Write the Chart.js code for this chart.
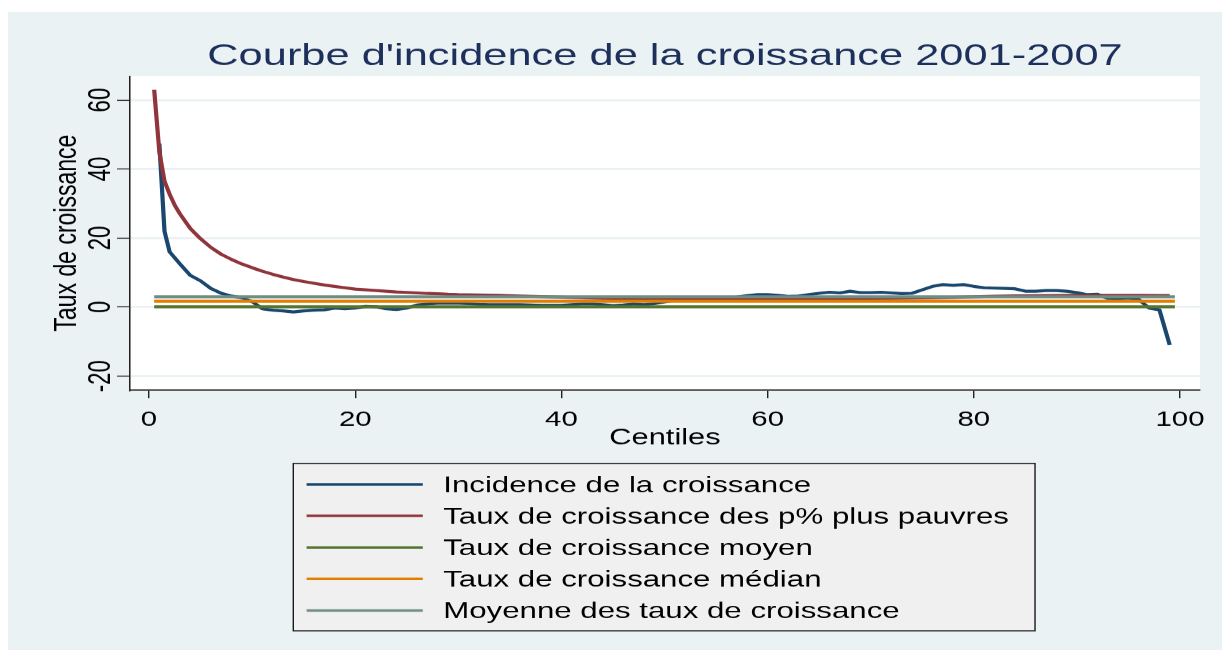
<!DOCTYPE html>
<html>
<head>
<meta charset="utf-8">
<script src="https://cdn.jsdelivr.net/npm/chart.js@4/dist/chart.umd.min.js"></script>
<style>
html,body{margin:0;padding:0;background:#ffffff;overflow:hidden;width:1222px;height:653px;}
#wrap{position:absolute;left:0;top:0;width:873px;height:653px;transform:scaleX(1.39977);transform-origin:0 0;}
#c{display:block;width:873px;height:653px;}
</style>
</head>
<body>
<div id="wrap"><canvas id="c" width="873" height="653"></canvas></div>
<script>
// ---- Data ----
const incidenceCentiles = [1,1.5,2,3,4,5,6,7,8,9,10,11,12,13,14,15,16,17,18,19,20,21,22,23,24,25,26,27,28,29,30,31,32,33,34,35,36,37,38,39,40,41,42,43,44,45,46,47,48,49,50,51,52,53,54,55,56,57,58,59,60,61,62,63,64,65,66,67,68,69,70,71,72,73,74,75,76,77,78,79,80,81,82,83,84,85,86,87,88,89,90,91,92,93,94,95,96,97,98,99];
const incidence = [47.4,22.0,16.0,12.5,9.2,7.6,5.4,4.0,3.2,2.7,1.6,-0.5,-0.9,-1.1,-1.4,-1.1,-0.9,-0.8,-0.3,-0.5,-0.3,0.2,0.1,-0.5,-0.7,-0.3,0.6,0.9,1.1,1.1,1.1,1.0,0.8,0.7,0.7,0.7,0.7,0.6,0.5,0.5,0.5,0.7,0.9,0.9,0.7,0.4,0.6,0.9,0.7,1.0,1.5,2.0,2.1,2.1,2.2,2.3,2.5,2.9,3.3,3.6,3.6,3.4,3.1,3.2,3.6,4.0,4.3,4.1,4.6,4.2,4.2,4.3,4.1,3.9,4.0,5.0,6.0,6.5,6.3,6.5,6.0,5.6,5.5,5.4,5.3,4.6,4.6,4.8,4.8,4.6,4.2,3.6,3.7,2.5,2.4,2.6,2.2,-0.3,-0.8,-11.0];
const poorCentiles = [0.5,1,1.5,2,2.5,3,4,5,6,7,8,9,10,11,12,13,14,15,16,17,18,19,20,21,22,23,24,25,26,27,28,29,30,32,34,36,38,40,42,44,46,48,50,52,54,56,58,60,62,64,66,68,70,72,74,76,78,80,82,84,86,88,90,92,94,96,98,99];
const poorGrowth = [63,45,36.5,32.7,29.5,27,22.8,19.8,17.3,15.3,13.8,12.5,11.4,10.4,9.5,8.7,8.0,7.4,6.9,6.4,6.0,5.6,5.2,5.0,4.8,4.6,4.4,4.25,4.1,3.95,3.85,3.7,3.6,3.5,3.4,3.2,3.05,2.9,2.7,2.5,2.4,2.3,2.2,2.2,2.2,2.2,2.25,2.3,2.3,2.35,2.35,2.4,2.45,2.5,2.6,2.7,2.85,3.0,3.15,3.25,3.3,3.35,3.4,3.4,3.4,3.4,3.35,3.35];
const lineSpan = [0.5, 99.5];
const meanGrowth = 0.1;     // Taux de croissance moyen
const medianGrowth = 1.7;   // Taux de croissance médian
const meanOfRates = 3.0;    // Moyenne des taux de croissance
const xTicks = [0,20,40,60,80,100];
const yTicks = [-20,0,20,40,60];
const labels = ["Incidence de la croissance","Taux de croissance des p% plus pauvres","Taux de croissance moyen","Taux de croissance médian","Moyenne des taux de croissance"];
const colors = ["#1a476f","#90353b","#55752f","#e37e00","#6e8e84"];

const pts = (xs, ys) => xs.map((x, i) => ({x: x, y: ys[i]}));
const flat = v => lineSpan.map(x => ({x: x, y: v}));

Chart.defaults.font.family = "'Liberation Sans', Arial, sans-serif";
Chart.defaults.color = "#000";

const FONT = "'Liberation Sans', Arial, sans-serif";

const backgroundPlugin = {
  id: 'stataBackground',
  beforeDraw(chart) {
    const {ctx, chartArea} = chart;
    ctx.save();
    ctx.fillStyle = '#ffffff';
    ctx.fillRect(0, 0, chart.width, chart.height);
    ctx.fillStyle = '#eaf2f3';
    ctx.fillRect(5.7, 12, chart.width - 5.7, 638);
    ctx.fillStyle = '#ffffff';
    ctx.fillRect(chartArea.left, chartArea.top, chartArea.right - chartArea.left, chartArea.bottom - chartArea.top);
    ctx.restore();
  }
};

const legendBoxPlugin = {
  id: 'stataLegend',
  afterDraw(chart) {
    const {ctx} = chart;
    const box = {left: 209.5, top: 463.3, right: 739.3, bottom: 630.7};
    ctx.save();
    ctx.fillStyle = '#f0f0f0';
    ctx.fillRect(box.left, box.top, box.right - box.left, box.bottom - box.top);
    ctx.strokeStyle = '#1a1a1a';
    ctx.lineWidth = 1;
    ctx.strokeRect(box.left, box.top, box.right - box.left, box.bottom - box.top);
    ctx.font = "22.3px " + FONT;
    ctx.textBaseline = 'middle';
    ctx.textAlign = 'left';
    chart.data.datasets.forEach((ds, i) => {
      const y = 484.3 + i * 31.5;
      ctx.strokeStyle = ds.borderColor;
      ctx.lineWidth = 2.5;
      ctx.beginPath();
      ctx.moveTo(219, y);
      ctx.lineTo(302, y);
      ctx.stroke();
      ctx.fillStyle = '#000';
      ctx.fillText(ds.label, 316.6, y + 1.6);
    });
    ctx.restore();
  }
};

new Chart(document.getElementById('c'), {
  type: 'line',
  data: {
    datasets: [
      {label: labels[0], data: pts(incidenceCentiles, incidence), borderColor: colors[0], order: 5},
      {label: labels[1], data: pts(poorCentiles, poorGrowth), borderColor: colors[1], order: 4},
      {label: labels[2], data: flat(meanGrowth), borderColor: colors[2], order: 3},
      {label: labels[3], data: flat(medianGrowth), borderColor: colors[3], order: 2},
      {label: labels[4], data: flat(meanOfRates), borderColor: colors[4], order: 1}
    ]
  },
  options: {
    responsive: false,
    animation: false,
    devicePixelRatio: 1.4,
    events: [],
    layout: {padding: {left: 0, right: 15.9, top: 0, bottom: 201.8}},
    elements: {
      point: {radius: 0},
      line: {borderWidth: 3, tension: 0, fill: false, borderJoinStyle: 'round'}
    },
    plugins: {
      legend: {display: false},
      tooltip: {enabled: false},
      title: {
        display: true,
        fullSize: false,
        text: "Courbe d'incidence de la croissance 2001-2007",
        color: '#1d2f5b',
        font: {size: 31, weight: 'normal'},
        padding: {top: 37.9, bottom: 0.9}
      }
    },
    scales: {
      x: {
        type: 'linear',
        min: -1.84,
        max: 101.93,
        afterBuildTicks: s => { s.ticks = xTicks.map(v => ({value: v})); },
        afterFit: s => { s.height = 61.2; },
        grid: {drawOnChartArea: false, drawTicks: true, tickLength: 8, tickColor: '#222', tickWidth: 1},
        border: {color: '#222', width: 1.3},
        ticks: {font: {size: 21}, color: '#000', padding: 9, maxRotation: 0, autoSkip: false},
        title: {display: true, text: 'Centiles', font: {size: 22}, color: '#000', padding: {top: 0, bottom: 0}}
      },
      y: {
        min: -24.06,
        max: 66.96,
        afterBuildTicks: s => { s.ticks = yTicks.map(v => ({value: v})); },
        afterFit: s => { s.width = 92.9; },
        grid: {color: '#eaf1f3', lineWidth: 2, drawTicks: true, tickLength: 9.3, tickColor: '#222', tickWidth: 1},
        border: {color: '#222', width: 1.1},
        ticks: {font: {size: 22}, color: '#000', minRotation: 90, maxRotation: 90, crossAlign: 'center', padding: -5, autoSkip: false},
        title: {display: true, text: 'Taux de croissance', font: {size: 23}, color: '#000', padding: {top: 34.1, bottom: 0}}
      }
    }
  },
  plugins: [backgroundPlugin, legendBoxPlugin]
});
</script>
</body>
</html>
